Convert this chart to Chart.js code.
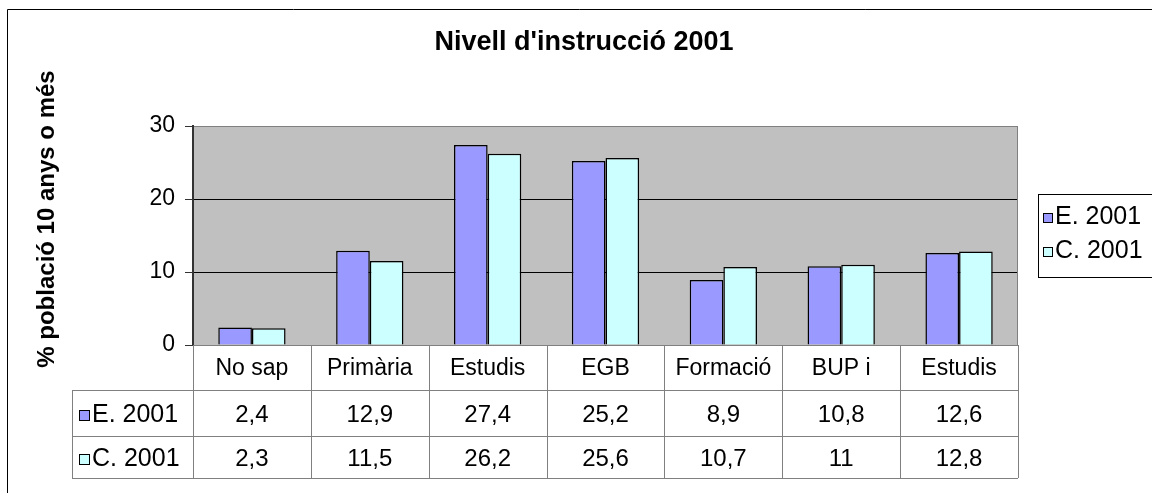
<!DOCTYPE html>
<html>
<head>
<meta charset="utf-8">
<script src="https://cdn.jsdelivr.net/npm/chart.js@4.4.0/dist/chart.umd.min.js"></script>
<style>
  html, body { margin: 0; padding: 0; background: #fff; }
  canvas { display: block; }
</style>
</head>
<body>
<canvas id="myChart" width="1152" height="493"></canvas>
<script>
const categories = ['No sap', 'Primària', 'Estudis', 'EGB', 'Formació', 'BUP i', 'Estudis']
const seriesNames = ['E. 2001', 'C. 2001']
const eValues = [2.4, 12.9, 27.4, 25.2, 8.9, 10.8, 12.6]
const cValues = [2.3, 11.5, 26.2, 25.6, 10.7, 11, 12.8]
const yTicks = [0, 10, 20, 30]

const colors = ['#9999FF', '#CCFFFF']
const FONT = '"Liberation Sans", Arial, sans-serif'

const fmt = v => String(v).replace('.', ',')

// plot background, frame, title, axis title, legend and data table
const excelLook = {
  id: 'excelLook',
  beforeDraw(chart) {
    const { ctx, chartArea: a } = chart
    ctx.save()
    ctx.fillStyle = '#C0C0C0'
    ctx.fillRect(a.left, a.top, a.right - a.left, a.bottom - a.top)
    ctx.restore()
  },
  afterDraw(chart) {
    const { ctx, chartArea: a } = chart
    const x = chart.scales.x
    ctx.save()

    // outer frame
    ctx.strokeStyle = '#000'
    ctx.lineWidth = 1
    ctx.beginPath()
    ctx.moveTo(7.5, 493)
    ctx.lineTo(7.5, 9.5)
    ctx.lineTo(1152, 9.5)
    ctx.stroke()

    // right edge of plot
    ctx.strokeStyle = '#808080'
    ctx.beginPath()
    ctx.moveTo(a.right - 0.5, a.top)
    ctx.lineTo(a.right - 0.5, a.bottom)
    ctx.stroke()

    // title
    ctx.fillStyle = '#000'
    ctx.font = 'bold 27px ' + FONT
    ctx.textAlign = 'center'
    ctx.textBaseline = 'middle'
    ctx.fillText("Nivell d'instrucció 2001", 584, 43)

    // y axis title
    ctx.save()
    ctx.translate(47, 219)
    ctx.rotate(-Math.PI / 2)
    ctx.font = 'bold 24px ' + FONT
    ctx.fillText('% població 10 anys o més', 0, 0)
    ctx.restore()

    // data table
    const rowTops = [a.bottom, 390, 436, 478]
    const tableLeft = 72
    const half = (x.getPixelForValue(1) - x.getPixelForValue(0)) / 2
    const colEdges = categories.map((c, i) => x.getPixelForValue(i) - half)
    colEdges.push(x.getPixelForValue(categories.length - 1) + half)

    ctx.strokeStyle = '#808080'
    ctx.lineWidth = 1
    ctx.beginPath()
    ctx.moveTo(a.left, rowTops[0] + 0.5)
    ctx.lineTo(a.right, rowTops[0] + 0.5)
    for (let r = 1; r < rowTops.length; r++) {
      ctx.moveTo(tableLeft, rowTops[r] + 0.5)
      ctx.lineTo(a.right, rowTops[r] + 0.5)
    }
    colEdges.forEach(cx => {
      ctx.moveTo(Math.round(cx) + 0.5, rowTops[0])
      ctx.lineTo(Math.round(cx) + 0.5, rowTops[3])
    })
    ctx.moveTo(tableLeft + 0.5, rowTops[1])
    ctx.lineTo(tableLeft + 0.5, rowTops[3])
    ctx.stroke()

    ctx.fillStyle = '#000'
    ctx.font = '23px ' + FONT
    ctx.textAlign = 'center'
    categories.forEach((c, i) => {
      ctx.fillText(c, x.getPixelForValue(i), (rowTops[0] + rowTops[1]) / 2 + 1)
    })
    const rows = [eValues, cValues]
    rows.forEach((vals, r) => {
      const cy = (rowTops[r + 1] + rowTops[r + 2]) / 2 + 2
      ctx.font = '24px ' + FONT
      vals.forEach((v, i) => {
        ctx.fillText(fmt(v), x.getPixelForValue(i), cy)
      })
      // row header with key
      ctx.fillStyle = colors[r]
      ctx.fillRect(79, cy - 5, 10, 10)
      ctx.strokeStyle = '#000'
      ctx.strokeRect(79.5, cy - 4.5, 10, 10)
      ctx.fillStyle = '#000'
      ctx.textAlign = 'left'
      ctx.font = '25px ' + FONT
      ctx.fillText(seriesNames[r], 92, cy)
      ctx.textAlign = 'center'
    })

    // legend
    ctx.strokeStyle = '#000'
    ctx.strokeRect(1038.5, 194.5, 130, 83)
    ctx.textAlign = 'left'
    ctx.font = '25px ' + FONT
    seriesNames.forEach((n, r) => {
      const cy = 217 + r * 34
      ctx.fillStyle = colors[r]
      ctx.fillRect(1043, cy - 4, 9, 9)
      ctx.strokeStyle = '#000'
      ctx.strokeRect(1043.5, cy - 3.5, 9, 9)
      ctx.fillStyle = '#000'
      ctx.fillText(n, 1055, cy)
    })

    ctx.restore()
  }
}

const ctx = document.getElementById('myChart')
const myBarChart = new Chart(ctx, {
  type: 'bar',
  data: {
    labels: categories,
    datasets: [
      { label: seriesNames[0], data: eValues, backgroundColor: colors[0], borderColor: '#000', borderWidth: 1.5 },
      { label: seriesNames[1], data: cValues, backgroundColor: colors[1], borderColor: '#000', borderWidth: 1.5 }
    ]
  },
  options: {
    responsive: false,
    animation: false,
    devicePixelRatio: 1,
    categoryPercentage: 0.571,
    barPercentage: 1,
    layout: { padding: { left: 0, top: 126, right: 134, bottom: 148 } },
    plugins: {
      legend: { display: false },
      title: { display: false },
      tooltip: { enabled: false }
    },
    scales: {
      x: { display: false },
      y: {
        min: 0,
        max: 30,
        afterFit: s => { s.width = 193 },
        afterBuildTicks: s => { s.ticks = yTicks.map(v => ({ value: v })) },
        border: { color: '#333', width: 2 },
        grid: {
          color: c => (c.tick && c.tick.value === 30 ? '#808080' : '#000'),
          tickColor: '#333',
          tickLength: 8,
          lineWidth: 1
        },
        ticks: {
          color: '#000',
          padding: 10,
          font: { family: FONT, size: 23 }
        }
      }
    }
  },
  plugins: [excelLook]
})
</script>
</body>
</html>
